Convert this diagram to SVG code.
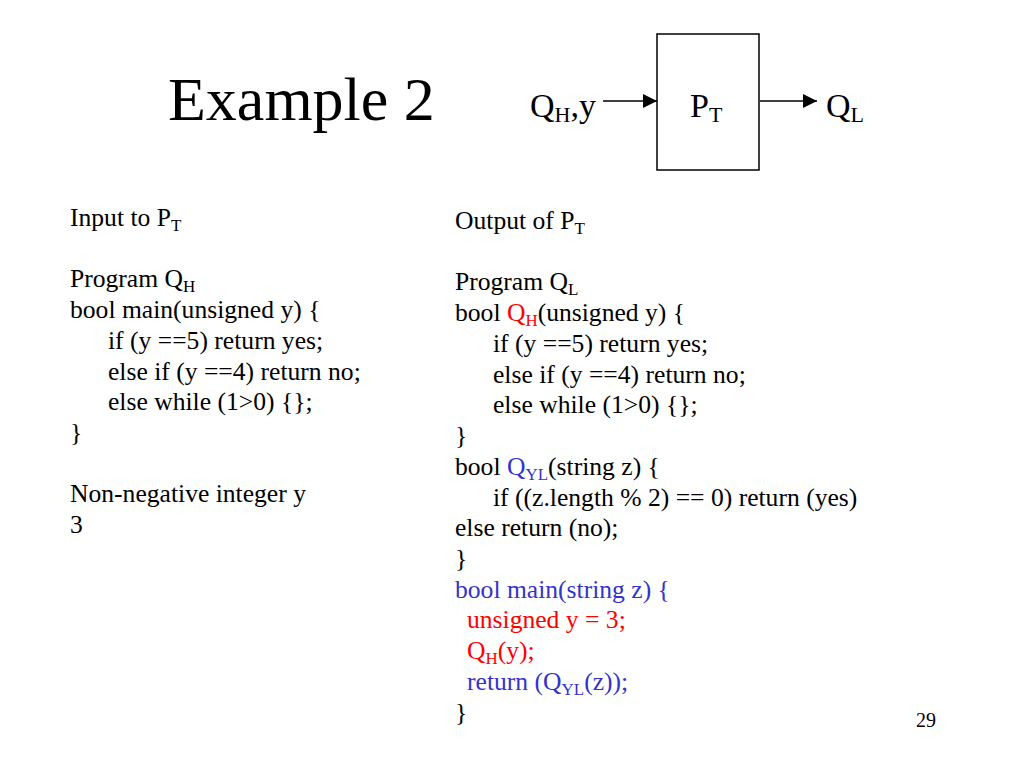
<svg xmlns="http://www.w3.org/2000/svg" width="1024" height="768" viewBox="0 0 1024 768">
<defs>
<style>
text{font-family:"Liberation Serif","Times New Roman",serif;fill:#000}
.t{font-size:62px}
.b{font-size:25.6px}
.d{font-size:34px}
.s{font-size:17px}
.sd{font-size:22px}
.r{fill:#ff0000}
.u{fill:#3333cc}
.pg{font-size:20px}
</style>
<marker id="ah" viewBox="0 0 10 10" refX="10" refY="5" markerWidth="14" markerHeight="14" markerUnits="userSpaceOnUse" orient="auto">
<path d="M0,0 L10,5 L0,10 Z" fill="#000"/>
</marker>
</defs>
<rect width="1024" height="768" fill="#fff"/>
<text class="t" x="168" y="120">Example 2</text>
<g id="in-label"><text class="d" x="530" y="117">Q<tspan class="sd" dy="5">H</tspan><tspan dy="-5">,y</tspan></text></g>
<g id="PT"><rect x="657" y="34" width="102" height="136" fill="#fff" stroke="#000" stroke-width="1.5"/>
<text class="d" x="690" y="117">P<tspan class="sd" dy="5">T</tspan></text></g>
<g id="out-label"><text class="d" x="826" y="117">Q<tspan class="sd" dy="5">L</tspan></text></g>
<g id="connectors" stroke="#000" stroke-width="1.5" fill="none">
<line x1="603" y1="101" x2="657" y2="101" marker-end="url(#ah)"/>
<line x1="760" y1="101" x2="817" y2="101" marker-end="url(#ah)"/>
</g>
<g id="left" class="b">
<text class="b" x="70" y="226">Input to P<tspan class="s" dy="5">T</tspan></text>
<text class="b" x="70" y="287.4">Program Q<tspan class="s" dy="5">H</tspan></text>
<text class="b" x="70" y="318">bool main(unsigned y) {</text>
<text class="b" x="108" y="348.8">if (y ==5) return yes;</text>
<text class="b" x="108" y="379.5">else if (y ==4) return no;</text>
<text class="b" x="108" y="410.2">else while (1&gt;0) {};</text>
<text class="b" x="70" y="441">}</text>
<text class="b" x="70" y="502.4">Non-negative integer y</text>
<text class="b" x="70" y="533">3</text>
</g>
<g id="right">
<text class="b" x="455" y="229">Output of P<tspan class="s" dy="5">T</tspan></text>
<text class="b" x="455" y="290.4">Program Q<tspan class="s" dy="5">L</tspan></text>
<text class="b" x="455" y="321">bool <tspan class="r">Q</tspan><tspan class="s r" dy="5">H</tspan><tspan dy="-5">(unsigned y) {</tspan></text>
<text class="b" x="493" y="351.9">if (y ==5) return yes;</text>
<text class="b" x="493" y="382.6">else if (y ==4) return no;</text>
<text class="b" x="493" y="413.3">else while (1&gt;0) {};</text>
<text class="b" x="455" y="444">}</text>
<text class="b" x="455" y="474.8">bool <tspan class="u">Q</tspan><tspan class="s u" dy="5">YL</tspan><tspan dy="-5">(string z) {</tspan></text>
<text class="b" x="493" y="505.5">if ((z.length % 2) == 0) return (yes)</text>
<text class="b" x="455" y="536.2">else return (no);</text>
<text class="b" x="455" y="567">}</text>
<text class="b u" x="455" y="597.6">bool main(string z) {</text>
<text class="b r" x="467" y="628.3">unsigned y = 3;</text>
<text class="b r" x="467" y="659">Q<tspan class="s" dy="5">H</tspan><tspan dy="-5">(y);</tspan></text>
<text class="b u" x="467" y="689.8">return (Q<tspan class="s" dy="5">YL</tspan><tspan dy="-5">(z));</tspan></text>
<text class="b" x="455" y="720.5">}</text>
</g>
<text class="pg" x="916" y="727">29</text>
</svg>
